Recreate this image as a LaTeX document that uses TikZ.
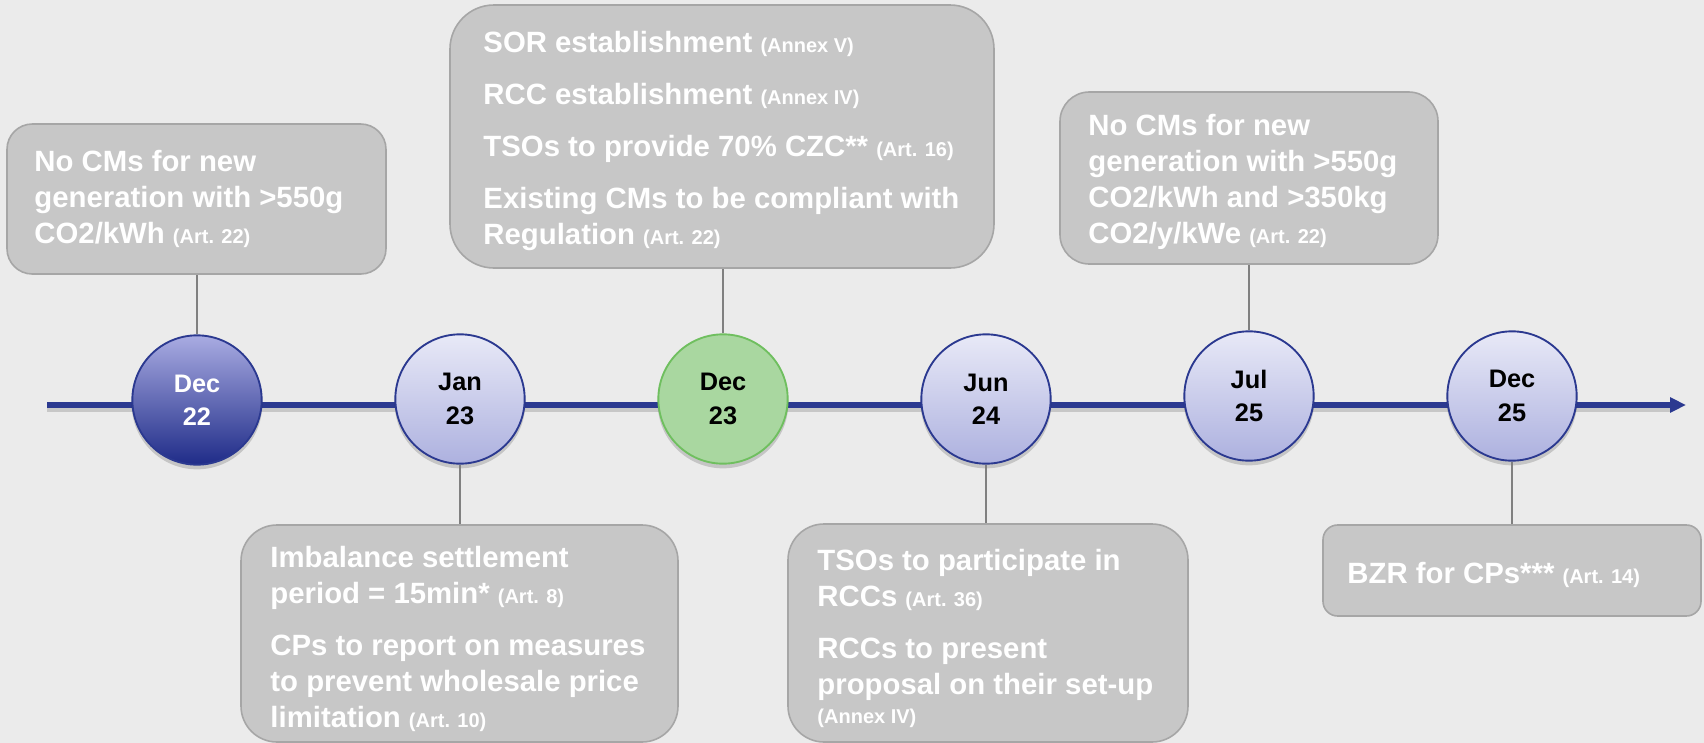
\documentclass[tikz,border=0pt]{standalone}
\usepackage{fontspec}
\setmainfont{Liberation Sans}
\usetikzlibrary{arrows.meta}
\definecolor{bg}{HTML}{EBEBEB}
\definecolor{boxfill}{HTML}{C7C7C7}
\definecolor{boxline}{HTML}{A6A6A6}
\definecolor{navy}{HTML}{2B3990}
\definecolor{conn}{HTML}{808080}
\definecolor{lavtop}{HTML}{E8E9F7}
\definecolor{lavbot}{HTML}{ADB1DF}
\definecolor{darktop}{HTML}{A9ACE2}
\definecolor{darkbot}{HTML}{1F2B88}
\definecolor{greenfill}{HTML}{A9D7A0}
\definecolor{greenline}{HTML}{6FBF5F}
\newcommand{\artref}[1]{{\fontsize{15}{18}\selectfont #1}}
\begin{document}
\begin{tikzpicture}[x=0.75pt,y=-0.75pt,
  evbox/.style={draw=boxline, fill=boxfill, line width=1.2pt, inner sep=0pt},
  evtext/.style={anchor=west, align=left, text=white, font=\bfseries\fontsize{22}{27}\selectfont, inner sep=0pt},
  datecirc/.style={circle, minimum size=97pt, inner sep=0pt, draw=navy, line width=1.4pt, top color=lavtop, bottom color=lavbot, align=center, font=\bfseries\fontsize{19}{25}\selectfont},
  tick/.style={draw=conn, line width=1.4pt},
  shadowc/.style={fill=black, opacity=0.16},
]
\fill[bg] (0,0) rectangle (1704,743);
\useasboundingbox (0,0) rectangle (1704,743);

% timeline
\draw[black, opacity=0.15, line width=4pt] (47,409) -- (1672,409);
\coordinate (tl0) at (47,405);
\coordinate (tl1) at (1686,405);
\draw[navy, line width=3.8pt, -{Triangle[length=12pt,width=11pt]}] (tl0) -- (tl1);

% circle shadows
\foreach \cx/\cy in {197/400,460/399,723/399,986/399,1249/396,1512/396}{
  \fill[shadowc] (\cx,\cy+4) circle (49pt);
}

% date circles
\node[datecirc, top color=darktop, bottom color=darkbot, text=white] (c1) at (197,400) {Dec\\22};
\node[datecirc] (c2) at (460,399) {Jan\\23};
\node[datecirc, draw=greenline, fill=greenfill, top color=greenfill, bottom color=greenfill] (c3) at (723,399) {Dec\\23};
\node[datecirc] (c4) at (986,399) {Jun\\24};
\node[datecirc] (c5) at (1249,396) {Jul\\25};
\node[datecirc] (c6) at (1512,396) {Dec\\25};

% boxes
\node[evbox, rounded corners=19pt, minimum width=284.25pt, minimum height=112.5pt] (b1) at (196.5,199) {};
\node[evtext] (t1) at ([xshift=21pt]b1.west) {No CMs for new\\generation with >550g\\CO2/kWh \artref{(Art. 22)}};

\node[evbox, rounded corners=33pt, minimum width=408pt, minimum height=197.25pt] (b3) at (722,136.5) {};
\node[evtext] (t3) at ([xshift=25.5pt,yshift=-3pt]b3.west) {SOR establishment \artref{(Annex V)}\\[12pt]RCC establishment \artref{(Annex IV)}\\[12pt]TSOs to provide 70\% CZC** \artref{(Art. 16)}\\[12pt]Existing CMs to be compliant with\\Regulation \artref{(Art. 22)}};

\node[evbox, rounded corners=27pt, minimum width=327.75pt, minimum height=162.75pt] (b2) at (459.5,633.5) {};
\node[evtext] (t2) at ([xshift=22.5pt,yshift=-4pt]b2.west) {Imbalance settlement\\period = 15min* \artref{(Art. 8)}\\[12pt]CPs to report on measures\\to prevent wholesale price\\limitation \artref{(Art. 10)}};

\node[evbox, rounded corners=27pt, minimum width=300pt, minimum height=163.5pt] (b4) at (988,633) {};
\node[evtext] (t4) at ([xshift=22.5pt,yshift=-4pt]b4.west) {TSOs to participate in\\RCCs \artref{(Art. 36)}\\[12pt]RCCs to present\\proposal on their set-up\\[-5pt]\artref{(Annex IV)}};

\node[evbox, rounded corners=22pt, minimum width=283.5pt, minimum height=129pt] (b5) at (1249,178) {};
\node[evtext] (t5) at ([xshift=21.75pt,yshift=-3pt]b5.west) {No CMs for new\\generation with >550g\\CO2/kWh and >350kg\\CO2/y/kWe \artref{(Art. 22)}};

\node[evbox, rounded corners=11pt, minimum width=283.5pt, minimum height=68.25pt] (b6) at (1512,570.5) {};
\node[evtext] (t6) at ([xshift=18.75pt,yshift=-3pt]b6.west) {BZR for CPs*** \artref{(Art. 14)}};

% connectors
\draw[tick] (c1.north) -- (c1.north |- b1.south);
\draw[tick] (c2.south) -- (c2.south |- b2.north);
\draw[tick] (c3.north) -- (c3.north |- b3.south);
\draw[tick] (c4.south) -- (c4.south |- b4.north);
\draw[tick] (c5.north) -- (c5.north |- b5.south);
\draw[tick] (c6.south) -- (c6.south |- b6.north);
\end{tikzpicture}
\end{document}
